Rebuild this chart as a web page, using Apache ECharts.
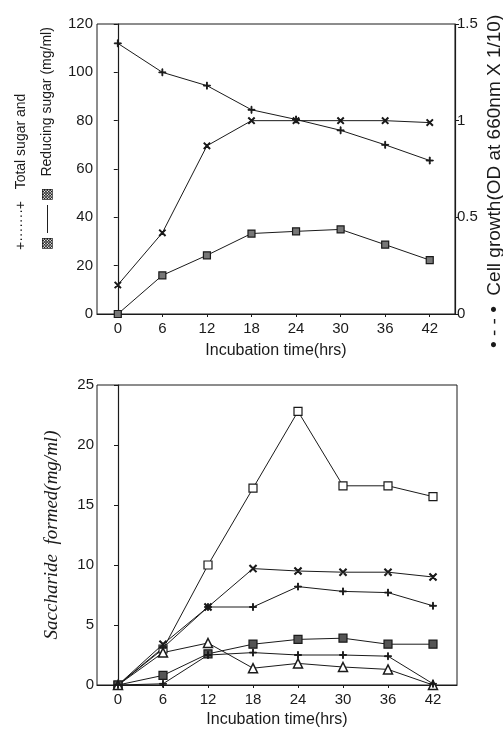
<!DOCTYPE html>
<html>
<head>
<meta charset="utf-8">
<style>
  html, body { margin: 0; padding: 0; background: #fff; }
  #chart { width: 503px; height: 732px; }
</style>
<script src="https://cdn.jsdelivr.net/npm/echarts@6/dist/echarts.min.js"></script>
</head>
<body>
<div id="chart"></div>
<script>
// incubation time (hrs)
const hours = [0, 6, 12, 18, 24, 30, 36, 42];

// upper panel
const totalSugar = [112, 100, 94.5, 84.5, 80.5, 76, 70, 63.5];
const reducingSugar = [0, 16, 24.3, 33.3, 34.2, 35, 28.7, 22.3];
const cellGrowth = [0.15, 0.42, 0.87, 1.0, 1.0, 1.0, 1.0, 0.99];

// lower panel, saccharide formed (mg/ml)
const sacchSquare = [0, 3.0, 10.0, 16.4, 22.8, 16.6, 16.6, 15.7];
const sacchCross = [0, 3.4, 6.5, 9.7, 9.5, 9.4, 9.4, 9.0];
const sacchPlus = [0, 3.1, 6.5, 6.5, 8.2, 7.8, 7.7, 6.6];
const sacchFilled = [0, 0.8, 2.6, 3.4, 3.8, 3.9, 3.4, 3.4];
const sacchTriangle = [0, 2.7, 3.5, 1.4, 1.8, 1.5, 1.3, 0];
const sacchTick = [0, 0.1, 2.5, 2.7, 2.5, 2.5, 2.4, 0.1];

const INK = '#1a1a1a';
const PLUS = 'path://M0,4.4h10v1.2h-10z M4.4,0h1.2v10h-1.2z';

function pairs(values) {
    return hours.map((h, i) => [h, values[i]]);
}

function lineSeries(values, opts) {
    return Object.assign({
        type: 'line',
        data: pairs(values),
        lineStyle: { color: INK, width: 1 },
        itemStyle: { color: INK, borderColor: INK, borderWidth: 1 },
        symbolSize: 7,
        clip: false,
        animation: false,
        z: 3
    }, opts);
}

function xAxisFor(gridIndex, min, max) {
    return {
        type: 'value',
        gridIndex: gridIndex,
        min: min,
        max: max,
        name: 'Incubation time(hrs)',
        nameLocation: 'middle',
        nameGap: gridIndex === 0 ? 29 : 27,
        nameTextStyle: { fontFamily: 'Liberation Sans', fontSize: 16, color: INK },
        axisLine: { lineStyle: { color: INK, width: 1.2 } },
        axisTick: { show: true, length: 3, customValues: hours, lineStyle: { color: INK } },
        axisLabel: {
            customValues: hours,
            margin: 7,
            fontFamily: 'Liberation Sans', fontSize: 15, color: INK
        },
        splitLine: { show: false }
    };
}

const labelStyle = { fontFamily: 'Liberation Sans', fontSize: 15, color: INK };

const option = {
    backgroundColor: '#fff',
    animation: false,
    grid: [
        { left: 97, top: 24, width: 358, height: 290, show: true, borderColor: INK, borderWidth: 1, outerBoundsMode: 'none' },
        { left: 97, top: 385, width: 360, height: 300, show: true, borderColor: INK, borderWidth: 1, outerBoundsMode: 'none' }
    ],
    xAxis: [
        xAxisFor(0, -2.8, 45.4),
        xAxisFor(1, -2.8, 45.2)
    ],
    yAxis: [
        {
            type: 'value', gridIndex: 0, min: 0, max: 120, interval: 20,
            axisLine: { show: true, lineStyle: { color: INK, width: 1.2 } },
            axisTick: { show: true, length: 4, lineStyle: { color: INK } },
            axisLabel: Object.assign({ margin: 4 }, labelStyle),
            splitLine: { show: false }
        },
        {
            type: 'value', gridIndex: 0, position: 'right', min: 0, max: 1.5, interval: 0.5,
            axisLine: { show: true, lineStyle: { color: INK, width: 1.2 } },
            axisTick: { show: true, length: 4, lineStyle: { color: INK } },
            axisLabel: Object.assign({ margin: 2 }, labelStyle),
            splitLine: { show: false }
        },
        {
            type: 'value', gridIndex: 1, min: 0, max: 25, interval: 5,
            name: 'Saccharide  formed(mg/ml)',
            nameLocation: 'middle',
            nameGap: 36,
            nameRotate: 90,
            nameTextStyle: { fontFamily: 'Liberation Serif', fontStyle: 'italic', fontSize: 19, color: INK },
            axisLine: { show: true, lineStyle: { color: INK, width: 1.2 } },
            axisTick: { show: true, length: 4, lineStyle: { color: INK } },
            axisLabel: Object.assign({ margin: 3 }, labelStyle),
            splitLine: { show: false }
        }
    ],
    graphic: [
        {
            type: 'text', x: 21, y: 250, rotation: Math.PI / 2,
            style: {
                text: '+·······+   Total sugar and',
                font: '14px "Liberation Sans"', fill: INK,
                textAlign: 'left', textVerticalAlign: 'middle'
            }
        },
        {
            type: 'text', x: 47, y: 250, rotation: Math.PI / 2,
            style: {
                text: '▩ —— ▩   Reducing sugar (mg/ml)',
                font: '14px "Liberation Sans"', fill: INK,
                textAlign: 'left', textVerticalAlign: 'middle'
            }
        },
        {
            type: 'text', x: 495, y: 348, rotation: Math.PI / 2,
            style: {
                text: '• - - •  Cell growth(OD at 660nm X 1/10)',
                font: '19px "Liberation Sans"', fill: INK,
                textAlign: 'left', textVerticalAlign: 'middle'
            }
        }
    ],
    series: [
        lineSeries(totalSugar, { name: 'Total sugar', xAxisIndex: 0, yAxisIndex: 0, symbol: PLUS, symbolSize: 7 }),
        lineSeries(reducingSugar, {
            name: 'Reducing sugar', xAxisIndex: 0, yAxisIndex: 0, symbol: 'rect', symbolSize: 7,
            itemStyle: { color: '#777', borderColor: INK, borderWidth: 1.2 }
        }),
        lineSeries(cellGrowth, { name: 'Cell growth', xAxisIndex: 0, yAxisIndex: 1, symbol: PLUS, symbolRotate: 45, symbolSize: 8 }),

        lineSeries(sacchSquare, {
            xAxisIndex: 1, yAxisIndex: 2, symbol: 'rect', symbolSize: 8,
            itemStyle: { color: '#fff', borderColor: INK, borderWidth: 1.2 }
        }),
        lineSeries(sacchCross, { xAxisIndex: 1, yAxisIndex: 2, symbol: PLUS, symbolRotate: 45, symbolSize: 9 }),
        lineSeries(sacchPlus, { xAxisIndex: 1, yAxisIndex: 2, symbol: PLUS, symbolSize: 7 }),
        lineSeries(sacchFilled, {
            xAxisIndex: 1, yAxisIndex: 2, symbol: 'rect', symbolSize: 8,
            itemStyle: { color: '#555', borderColor: INK, borderWidth: 1.2 }
        }),
        lineSeries(sacchTriangle, {
            xAxisIndex: 1, yAxisIndex: 2, symbol: 'triangle', symbolSize: 9,
            itemStyle: { color: '#fff', borderColor: INK, borderWidth: 1.5 }
        }),
        lineSeries(sacchTick, { xAxisIndex: 1, yAxisIndex: 2, symbol: PLUS, symbolSize: 7 })
    ]
};

const chart = echarts.init(document.getElementById('chart'), null, { renderer: 'canvas' });
chart.setOption(option);
</script>
</body>
</html>
